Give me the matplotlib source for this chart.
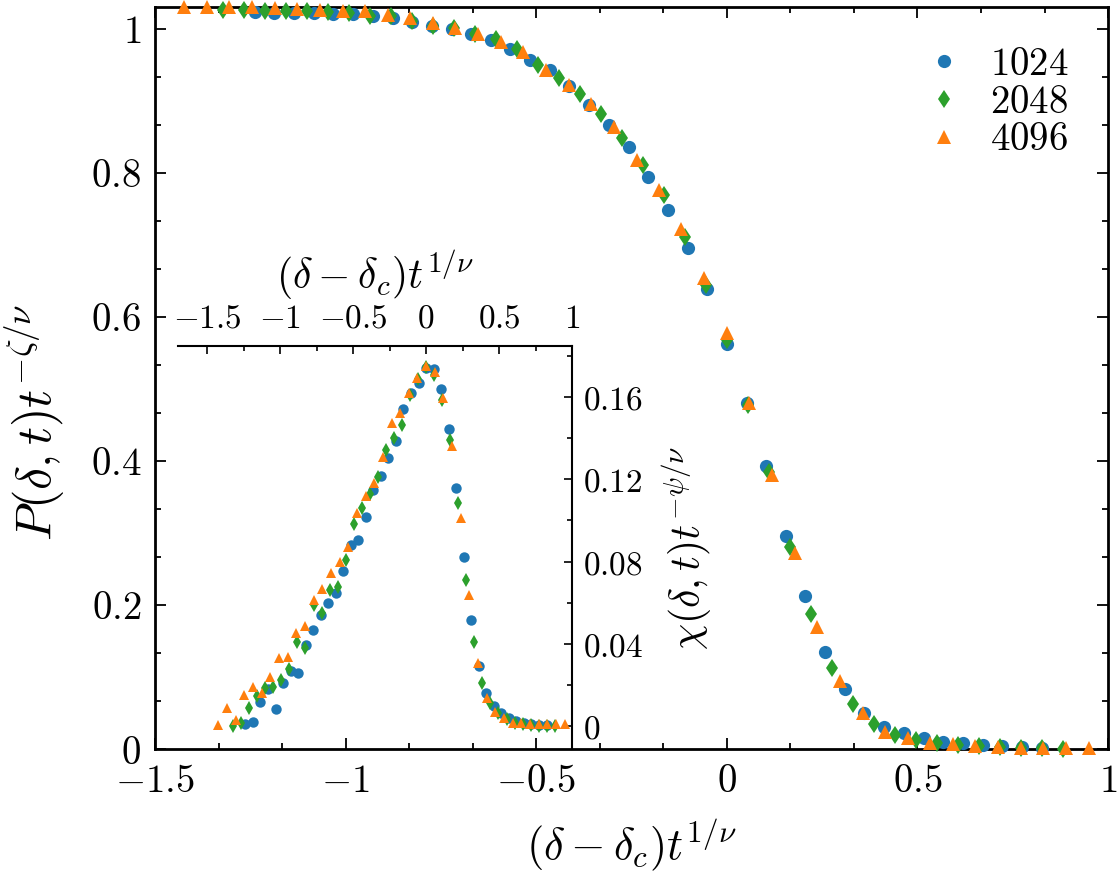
import matplotlib
matplotlib.use("Agg")
import matplotlib.pyplot as plt
from matplotlib.ticker import AutoMinorLocator, FuncFormatter, MultipleLocator

plt.rcParams["mathtext.fontset"] = "cm"
plt.rcParams["font.family"] = ["DejaVu Serif"]

# scaled variable (delta - delta_c) t^{1/nu}, shared by main plot and inset
x_1024 = [-1.238, -1.187, -1.135, -1.084, -1.032, -0.980, -0.929, -0.877, -0.826, -0.774,
          -0.722, -0.671, -0.619, -0.568, -0.516, -0.464, -0.413, -0.361, -0.310, -0.258,
          -0.206, -0.155, -0.103, -0.052, 0.000, 0.052, 0.103, 0.155, 0.206, 0.258,
          0.310, 0.361, 0.413, 0.464, 0.516, 0.568, 0.619, 0.671, 0.722, 0.774, 0.826]
x_2048 = [-1.322, -1.267, -1.212, -1.157, -1.102, -1.047, -0.992, -0.937, -0.882, -0.827,
          -0.771, -0.716, -0.661, -0.606, -0.551, -0.496, -0.441, -0.386, -0.331, -0.276,
          -0.220, -0.165, -0.110, -0.055, 0.000, 0.055, 0.110, 0.165, 0.220, 0.276,
          0.331, 0.386, 0.441, 0.496, 0.551, 0.606, 0.661, 0.716, 0.771, 0.827, 0.882]
x_4096 = [-1.423, -1.364, -1.305, -1.245, -1.186, -1.127, -1.067, -1.008, -0.949, -0.890,
          -0.830, -0.771, -0.712, -0.652, -0.593, -0.534, -0.474, -0.415, -0.356, -0.297,
          -0.237, -0.178, -0.119, -0.059, 0.000, 0.059, 0.119, 0.178, 0.237, 0.297,
          0.356, 0.415, 0.474, 0.534, 0.593, 0.652, 0.712, 0.771, 0.830, 0.890, 0.949]

# P(delta, t) t^{-zeta/nu}
p_1024 = [1.023, 1.022, 1.022, 1.021, 1.020, 1.020, 1.017, 1.015, 1.009, 1.004,
          0.999, 0.992, 0.984, 0.972, 0.956, 0.942, 0.921, 0.894, 0.866, 0.835,
          0.794, 0.748, 0.695, 0.638, 0.562, 0.480, 0.393, 0.295, 0.212, 0.135,
          0.083, 0.050, 0.031, 0.022, 0.015, 0.010, 0.008, 0.0055, 0.004, 0.003, 0.002]
p_2048 = [1.026, 1.026, 1.025, 1.024, 1.024, 1.023, 1.021, 1.018, 1.017, 1.011,
          1.003, 1.001, 0.992, 0.985, 0.971, 0.950, 0.931, 0.909, 0.881, 0.848,
          0.811, 0.769, 0.711, 0.644, 0.568, 0.478, 0.385, 0.281, 0.188, 0.112,
          0.063, 0.035, 0.020, 0.013, 0.009, 0.0055, 0.0046, 0.003, 0.002, 0.001, 0.0005]
p_4096 = [1.030, 1.030, 1.030, 1.030, 1.028, 1.027, 1.026, 1.025, 1.024, 1.019,
          1.015, 1.008, 1.001, 0.992, 0.981, 0.967, 0.943, 0.922, 0.896, 0.864,
          0.817, 0.776, 0.722, 0.654, 0.577, 0.480, 0.381, 0.272, 0.170, 0.094,
          0.050, 0.024, 0.015, 0.009, 0.0065, 0.0046, 0.003, 0.002, 0.002, 0.002, 0.002]

# chi(delta, t) t^{-psi/nu}
chi_1024 = [0.001, 0.0021, 0.0118, 0.018, 0.0083, 0.0211, 0.027, 0.0256, 0.0394, 0.0467,
            0.0540, 0.0600, 0.0649, 0.0756, 0.0881, 0.0905, 0.1018, 0.1148, 0.1217, 0.1303,
            0.1388, 0.1541, 0.1622, 0.1668, 0.1741, 0.1736, 0.1638, 0.1444, 0.1160, 0.0824,
            0.0516, 0.0292, 0.0159, 0.0097, 0.0062, 0.0037, 0.0024, 0.0016, 0.0010, 0.0005, 0.0003]
chi_2048 = [0.0, 0.0013, 0.0086, 0.0146, 0.0183, 0.0191, 0.0224, 0.0276, 0.0410, 0.0378,
            0.0589, 0.0548, 0.0662, 0.0678, 0.0808, 0.0983, 0.1059, 0.1129, 0.1213, 0.1343,
            0.1400, 0.1465, 0.1611, 0.1687, 0.1748, 0.1708, 0.1586, 0.1392, 0.1084, 0.0710,
            0.0410, 0.0208, 0.0110, 0.0062, 0.0033, 0.0016, 0.0008, 0.0005, 0.0002, 0.0001, 0.0]
chi_4096 = [0.0005, 0.0086, 0.0029, 0.0151, 0.0191, 0.0162, 0.0240, 0.0329, 0.0337, 0.0451,
            0.0487, 0.0613, 0.0665, 0.0743, 0.0800, 0.0873, 0.1038, 0.1119, 0.1184, 0.1307,
            0.1476, 0.1525, 0.1619, 0.1692, 0.1752, 0.1724, 0.1595, 0.1362, 0.1011, 0.0637,
            0.0308, 0.0135, 0.0070, 0.0037, 0.0016, 0.0013, 0.0010, 0.0008, 0.0008, 0.0008, 0.0008]

SIZES = ["1024", "2048", "4096"]
COLORS = ["#1f77b4", "#2ca02c", "#ff7f0e"]
MARKERS = ["o", "d", "^"]
XS = [x_1024, x_2048, x_4096]
PS = [p_1024, p_2048, p_4096]
CHIS = [chi_1024, chi_2048, chi_4096]


def _fmt(v, pos):
    if abs(v) < 1e-9:
        v = 0.0
    return f"${v:g}$"


fig = plt.figure(figsize=(11.17, 8.74), dpi=100)
ax = fig.add_axes([0.1388, 0.1430, 0.8532, 0.8490])

for x, p, c, m, lab in zip(XS, PS, COLORS, MARKERS, SIZES):
    ax.plot(x, p, linestyle="none", marker=m, color=c, markersize=9.5,
            markeredgewidth=0, label=f"${lab}$", clip_on=False, zorder=3)

ax.set_xlim(-1.5, 1.0)
ax.set_ylim(0, 1.03)
ax.xaxis.set_major_locator(MultipleLocator(0.5))
ax.yaxis.set_major_locator(MultipleLocator(0.2))
ax.xaxis.set_minor_locator(AutoMinorLocator(3))
ax.yaxis.set_minor_locator(AutoMinorLocator(3))
ax.xaxis.set_major_formatter(FuncFormatter(_fmt))
ax.yaxis.set_major_formatter(FuncFormatter(_fmt))
ax.tick_params(which="both", direction="in", top=True, right=True, width=1.3)
ax.tick_params(which="major", length=8, labelsize=28, pad=10)
ax.tick_params(which="minor", length=4.5)
for s in ax.spines.values():
    s.set_linewidth(2)
ax.set_xlabel(r"$(\delta-\delta_c)t^{1/\nu}$", fontsize=32, labelpad=12)
ax.set_ylabel(r"$P(\delta,t)t^{-\zeta/\nu}$", fontsize=36)
ax.yaxis.set_label_coords(-0.092, 0.44)

ax.legend(loc="upper right", frameon=False, fontsize=28, handlelength=0.8,
          handletextpad=0.8, labelspacing=0.02, borderaxespad=0.6)

# inset: susceptibility
ins = fig.add_axes([0.1594, 0.1430, 0.3527, 0.4611])
ins.patch.set_alpha(0)
for x, chi, c, m in zip(XS, CHIS, COLORS, MARKERS):
    ins.plot(x, chi, linestyle="none", marker=m, color=c, markersize=7.5,
             markeredgewidth=0, zorder=3)
ins.set_xlim(-1.7, 1.0)
ins.set_ylim(-0.0112, 0.1849)
ins.spines["left"].set_visible(False)
ins.spines["bottom"].set_visible(False)
for s in ("top", "right"):
    ins.spines[s].set_linewidth(1.5)
ins.xaxis.tick_top()
ins.yaxis.tick_right()
ins.xaxis.set_label_position("top")
ins.yaxis.set_label_position("right")
ins.xaxis.set_major_locator(MultipleLocator(0.5))
ins.yaxis.set_major_locator(MultipleLocator(0.04))
ins.xaxis.set_minor_locator(AutoMinorLocator(2))
ins.yaxis.set_minor_locator(AutoMinorLocator(2))
ins.xaxis.set_major_formatter(FuncFormatter(_fmt))
ins.yaxis.set_major_formatter(FuncFormatter(_fmt))
ins.tick_params(which="both", direction="in", width=1.2,
                top=True, right=True, bottom=False, left=False,
                labeltop=True, labelright=True, labelbottom=False, labelleft=False)
ins.tick_params(which="major", length=6, labelsize=24, pad=8)
ins.tick_params(which="minor", length=3.5)
ins.set_xlabel(r"$(\delta-\delta_c)t^{1/\nu}$", fontsize=30, labelpad=10)
ins.set_ylabel(r"$\chi(\delta,t)t^{-\psi/\nu}$", fontsize=30, labelpad=12)

fig.savefig("out.png", dpi=100)
